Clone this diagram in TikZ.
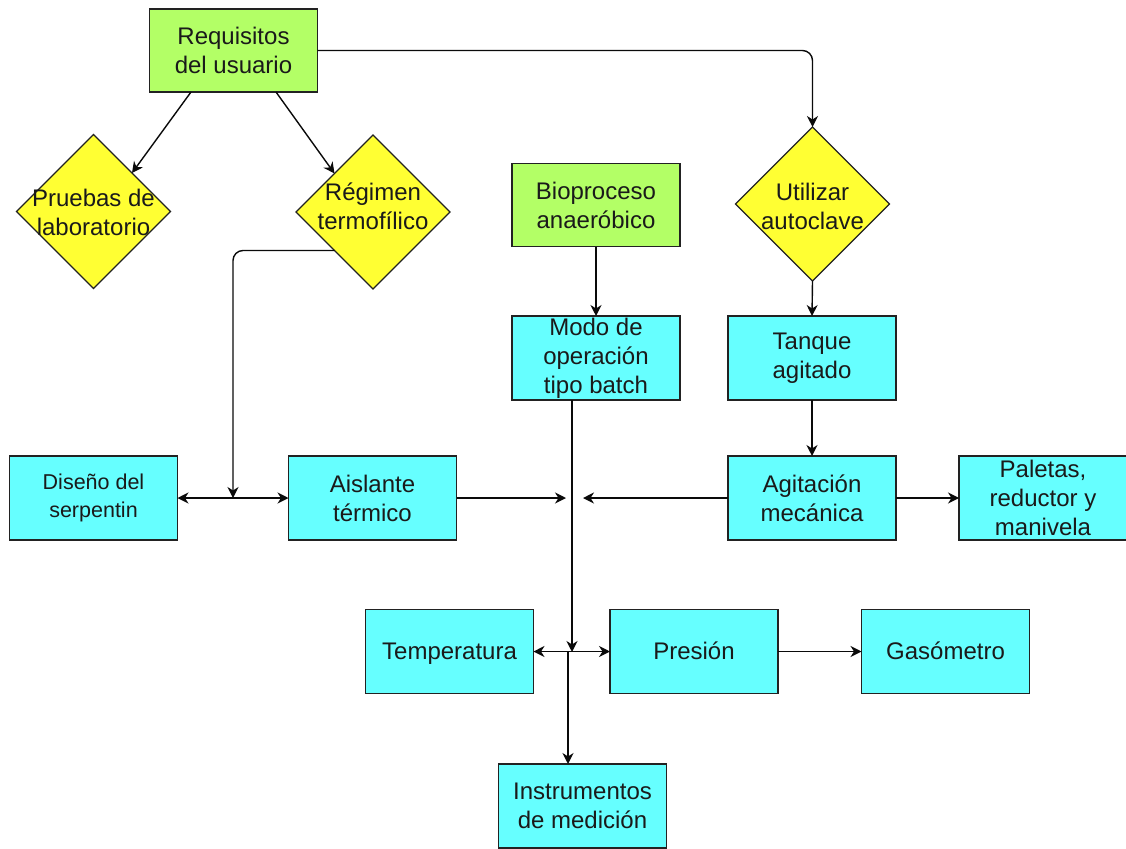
\documentclass[tikz,border=0pt]{standalone}
\usepackage{fontspec}
\setmainfont{Liberation Sans}
\usetikzlibrary{shapes.geometric,arrows.meta}
\definecolor{boxgreen}{HTML}{B3FF66}
\definecolor{boxcyan}{HTML}{66FFFF}
\definecolor{diayellow}{HTML}{FFFF33}
\definecolor{edgecol}{HTML}{222222}
\definecolor{linecol}{HTML}{0A0A0A}
\definecolor{ink}{HTML}{1A1A1A}
\begin{document}
\begin{tikzpicture}[x=1pt,y=-1pt,
  base/.style={draw=edgecol, line width=1.2pt, text=ink, align=center,
    inner sep=0pt, outer sep=0pt, font=\fontsize{24}{29}\selectfont},
  gbox/.style={base, rectangle, fill=boxgreen, minimum width=168pt, minimum height=83pt},
  cbox/.style={base, rectangle, fill=boxcyan, minimum width=168pt, minimum height=84pt},
  dia/.style={base, diamond, fill=diayellow, aspect=1, minimum width=154pt, minimum height=154pt},
  dtext/.style={align=center, text=ink, inner sep=0pt, font=\fontsize{24}{29}\selectfont},
  conn/.style={draw=linecol, line width=1.4pt},
  tip/.tip={Stealth[length=11pt,width=11pt,inset=3.5pt]},
  arr/.style={conn, -tip},
  arrtwo/.style={conn, tip-tip}
]
\useasboundingbox (0,0) rectangle (1126,848);

% top row
\node[gbox] (req) at (233.5,50.5) {Requisitos\\del usuario};
\node[dia] (pruebas) at (93.5,211.5) {};
\node[dtext] (pruebasT) at (93.5,212) {Pruebas de\\laboratorio};
\node[dia] (regimen) at (373,212) {};
\node[dtext] (regimenT) at (373,206) {Régimen\\termofílico};
\node[gbox] (bio) at (596,205) {Bioproceso\\anaeróbico};
\node[dia] (util) at (812.5,204) {};
\node[dtext] (utilT) at (812.5,206) {Utilizar\\autoclave};

% second row
\node[cbox] (modo) at (596,358) {Modo de\\operación\\tipo batch};
\node[cbox] (tanque) at (812,358) {Tanque\\agitado};

% third row
\node[cbox, font=\fontsize{21.5}{28}\selectfont] (diseno) at (93.5,498) {Diseño del\\serpentin};
\node[cbox] (aislante) at (372.5,498) {Aislante\\térmico};
\node[cbox] (agit) at (812,498) {Agitación\\mecánica};
\node[cbox] (paletas) at (1043,498) {Paletas,\\reductor y\\manivela};

% measurement row
\node[cbox] (temp) at (449.5,651.5) {Temperatura\vphantom{Ág}};
\node[cbox] (pres) at (694,651.5) {Presión\vphantom{Ág}};
\node[cbox] (gaso) at (945.5,651.5) {Gasómetro\vphantom{Ág}};
\node[cbox] (instr) at (582.5,806) {Instrumentos\\de medición};

% junction points
\coordinate (j1) at (233,498);
\coordinate (j2a) at (566,498);
\coordinate (j2b) at (583,498);
\coordinate (j3) at (572,652);
\coordinate (j4) at (568,652);

% connectors
\draw[arr] ([xshift=-42.5pt]req.south) -- (pruebas.north east);
\draw[arr] ([xshift=42.5pt]req.south) -- (regimen.north west);
\draw[arr, rounded corners=10pt] (req.east) -| (util.north);
\draw[arr, rounded corners=10pt] (regimen.south west) -| (j1);
\draw[arr] (bio.south) -- (modo.north);
\draw[arr] (util.south) -- (tanque.north);
\draw[arr] (tanque.south) -- (agit.north);
\draw[arrtwo] (diseno.east) -- (aislante.west);
\draw[arr] (aislante.east) -- (j2a);
\draw[arr] (agit.west) -- (j2b);
\draw[arr] (agit.east) -- (paletas.west);
\draw[arr] ([xshift=-24pt]modo.south) -- (j3);
\draw[arrtwo] (temp.east) -- (pres.west);
\draw[arr] (j4) -- ([xshift=-14.5pt]instr.north);
\draw[arr] (pres.east) -- (gaso.west);
\end{tikzpicture}
\end{document}
